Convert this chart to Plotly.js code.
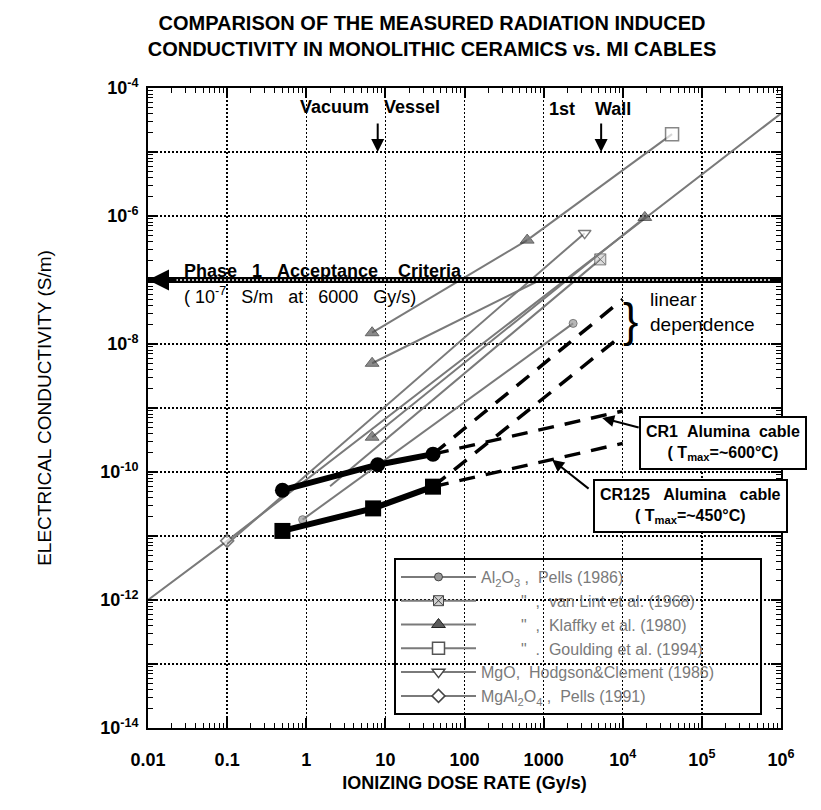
<!DOCTYPE html>
<html>
<head>
<meta charset="utf-8">
<script src="https://cdn.plot.ly/plotly-3.0.1.min.js"></script>
<style>html,body{margin:0;padding:0;background:#fff;}#chart{width:821px;height:810px;}</style>
</head>
<body>
<div id="chart"></div>
<script>
// ---------- DATA (dose rate in Gy/s, conductivity in S/m) ----------
// CR1 Alumina cable (filled circles)
const cr1Dose = [0.5, 8, 40];
const cr1Cond = [5.2e-11, 1.3e-10, 1.9e-10];
// CR125 Alumina cable (filled squares)
const cr125Dose = [0.5, 7, 40];
const cr125Cond = [1.2e-11, 2.7e-11, 5.9e-11];
// dashed extrapolations
const cr1LinDose = [40, 1e4];
const cr1LinCond = [1.9e-10, 5e-8];
const cr125LinDose = [40, 1e4];
const cr125LinCond = [5.9e-11, 1.4e-8];
const cr1FlatDose = [40, 1e4];
const cr1FlatCond = [1.9e-10, 9e-10];
const cr125FlatDose = [40, 1e4];
const cr125FlatCond = [5.9e-11, 2.8e-10];
// Al2O3, Pells (1986)
const pellsDose = [0.9, 2360];
const pellsCond = [1.8e-11, 2.1e-8];
// Al2O3, van Lint et al. (1968)
const vanLintDose = [2, 5200];
const vanLintCond = [6e-11, 2.1e-7];
// Al2O3, Klaffky et al. (1980) - three runs
const klaffky1Dose = [6.8, 620];
const klaffky1Cond = [1.5e-8, 4.2e-7];
const klaffky2Dose = [6.8, 900];
const klaffky2Cond = [5e-9, 1.0e-7];
const klaffky3Dose = [6.8, 1.9e4];
const klaffky3Cond = [3.5e-10, 9.5e-7];
// Al2O3, Goulding et al. (1994)
const gouldingDose = [620, 4.2e4];
const gouldingCond = [4.2e-7, 1.9e-5];
// MgO, Hodgson & Clement (1986)
const mgoDose = [0.1, 3300];
const mgoCond = [7.5e-12, 5.4e-7];
// MgAl2O4, Pells (1991)
const spinelDose = [0.01, 0.1, 1e6];
const spinelCond = [1e-12, 8.4e-12, 4e-5];
// Phase 1 acceptance criteria
const phaseDose = [0.01, 1e6];
const phaseCond = [1e-7, 1e-7];

// ticks
const xTickVals = [0.01, 0.1, 1, 10, 100, 1000, 1e4, 1e5, 1e6];
const xTickText = ['0.01', '0.1', '1', '10', '100', '1000', '10<sup>4</sup>', '10<sup>5</sup>', '10<sup>6</sup>'];
const yTickVals = [1e-14, 1e-13, 1e-12, 1e-11, 1e-10, 1e-9, 1e-8, 1e-7, 1e-6, 1e-5, 1e-4];
const yTickText = ['10<sup>-14</sup>', '', '10<sup>-12</sup>', '', '10<sup>-10</sup>', '', '10<sup>-8</sup>', '', '10<sup>-6</sup>', '', '10<sup>-4</sup>'];

const NB = '\u00a0';
const legendNames = [
  'Al<sub>2</sub>O<sub>3</sub> ,  Pells (1986)',
  NB.repeat(9) + '"  ,  van Lint et al. (1968)',
  NB.repeat(9) + '"  ,  Klaffky et al. (1980)',
  NB.repeat(9) + '"  .  Goulding et al. (1994)',
  'MgO,  Hodgson&amp;Clement (1986)' + NB.repeat(9),
  'MgAl<sub>2</sub>O<sub>4</sub> ,  Pells (1991)'
];

// ---------- helpers ----------
function minorTicks(lo, hi) {
  const out = [];
  for (let e = lo; e < hi; e++) for (let m = 2; m <= 9; m++) out.push(m * Math.pow(10, e));
  return out;
}
const FONT = 'Arial, "Liberation Sans", sans-serif';
const GREY = '#7a7a7a';
const MK = {
  pells: {symbol: 'circle', size: 8, color: '#9a9a9a', line: {color: '#444', width: 1}},
  vanlint: {symbol: 'square-x', size: 10, color: '#cfcfcf', line: {color: '#444', width: 1}},
  klaffky: {symbol: 'triangle-up', size: 12, color: '#5a5a5a', line: {color: '#222', width: 1}},
  goulding: {symbol: 'square', size: 12, color: '#ffffff', line: {color: '#555', width: 1.5}},
  mgo: {symbol: 'triangle-down', size: 11, color: '#ffffff', line: {color: '#444', width: 1.5}},
  spinel: {symbol: 'diamond', size: 10, color: '#ffffff', line: {color: '#444', width: 1.5}}
};
function greyTrace(x, y, mk, sizes) {
  return {x: x, y: y, type: 'scatter', mode: 'lines+markers', showlegend: false,
    line: {color: GREY, width: 2},
    marker: Object.assign({}, mk, {size: sizes})};
}
function legendTrace(name, mk, g) {
  return {x: [null], y: [null], type: 'scatter', mode: 'lines+markers', name: name,
    legendgroup: g, showlegend: true, line: {color: GREY, width: 2}, marker: mk};
}
function dashTrace(x, y) {
  return {x: x, y: y, type: 'scatter', mode: 'lines', showlegend: false,
    line: {color: 'black', width: 3.5, dash: '16px,11px'}};
}

const traces = [
  greyTrace(spinelDose, spinelCond, MK.spinel, [0, 10, 0]),
  greyTrace(mgoDose, mgoCond, MK.mgo, [0, 11]),
  greyTrace(pellsDose, pellsCond, MK.pells, [8, 8]),
  greyTrace(vanLintDose, vanLintCond, MK.vanlint, [0, 11]),
  greyTrace(klaffky3Dose, klaffky3Cond, MK.klaffky, [12, 12]),
  greyTrace(klaffky2Dose, klaffky2Cond, MK.klaffky, [12, 0]),
  greyTrace(klaffky1Dose, klaffky1Cond, MK.klaffky, [12, 12]),
  greyTrace(gouldingDose, gouldingCond, MK.goulding, [0, 13]),
  dashTrace(cr1LinDose, cr1LinCond),
  dashTrace(cr125LinDose, cr125LinCond),
  dashTrace(cr1FlatDose, cr1FlatCond),
  dashTrace(cr125FlatDose, cr125FlatCond),
  {x: cr1Dose, y: cr1Cond, type: 'scatter', mode: 'lines+markers', showlegend: false,
    line: {color: 'black', width: 6}, marker: {symbol: 'circle', size: 15, color: 'black'}},
  {x: cr125Dose, y: cr125Cond, type: 'scatter', mode: 'lines+markers', showlegend: false,
    line: {color: 'black', width: 6}, marker: {symbol: 'square', size: 16, color: 'black'}},
  {x: phaseDose, y: phaseCond, type: 'scatter', mode: 'lines', showlegend: false,
    line: {color: 'black', width: 6}},
  {x: phaseDose, y: phaseCond, type: 'scatter', mode: 'lines', showlegend: false,
    line: {color: 'white', width: 1.5, dash: '2px,2px'}},
  legendTrace(legendNames[0], MK.pells, 'g1'),
  legendTrace(legendNames[1], MK.vanlint, 'g2'),
  legendTrace(legendNames[2], MK.klaffky, 'g3'),
  legendTrace(legendNames[3], MK.goulding, 'g4'),
  legendTrace(legendNames[4], MK.mgo, 'g5'),
  legendTrace(legendNames[5], MK.spinel, 'g6')
];

const axisCommon = {
  type: 'log', showline: true, linecolor: 'black', linewidth: 2, mirror: 'ticks',
  ticks: 'inside', ticklen: 10, tickwidth: 2, tickcolor: 'black',
  showgrid: true, gridcolor: 'black', gridwidth: 1.3, griddash: '2px,2px',
  zeroline: false, tickmode: 'array',
  tickfont: {family: FONT, size: 18, color: 'black', weight: 700}
};

const layout = {
  width: 821, height: 810,
  margin: {l: 148, r: 40, t: 88, b: 82},
  paper_bgcolor: 'white', plot_bgcolor: 'white',
  showlegend: true,
  title: {
    text: 'COMPARISON OF THE MEASURED RADIATION INDUCED<br>CONDUCTIVITY IN MONOLITHIC CERAMICS vs. MI CABLES',
    x: 432 / 821, xanchor: 'center', xref: 'container',
    y: 1 - 30 / 810, yanchor: 'top', yref: 'container',
    font: {family: FONT, size: 20, color: 'black', weight: 700}
  },
  xaxis: Object.assign({}, axisCommon, {
    range: [-2, 6], tickvals: xTickVals, ticktext: xTickText, ticklabelstandoff: 14,
    minor: {tickmode: 'array', tickvals: minorTicks(-2, 6), ticks: 'inside', ticklen: 5, tickwidth: 1, tickcolor: 'black', showgrid: false},
    title: {text: 'IONIZING DOSE RATE (Gy/s)', standoff: 8, font: {family: FONT, size: 18, color: 'black', weight: 700}}
  }),
  yaxis: Object.assign({}, axisCommon, {
    range: [-14, -4], tickvals: yTickVals, ticktext: yTickText, ticklabelstandoff: 4,
    minor: {tickmode: 'array', tickvals: minorTicks(-14, -4), ticks: 'inside', ticklen: 5, tickwidth: 1, tickcolor: 'black', showgrid: false},
    title: {text: 'ELECTRICAL CONDUCTIVITY (S/m)', standoff: 44, font: {family: FONT, size: 19, color: 'black'}}
  }),
  legend: {
    x: (394 - 148) / 633, xanchor: 'left', y: (728 - 558) / 640, yanchor: 'top',
    bgcolor: 'rgba(0,0,0,0)', bordercolor: 'black', borderwidth: 2,
    itemwidth: 75, tracegroupgap: 4, traceorder: 'normal',
    font: {family: FONT, size: 16, color: '#7a7a7a'}
  },
  annotations: [
    // arrowhead of acceptance line
    {x: -2, y: -7, xref: 'x', yref: 'y', text: '', showarrow: true, ax: 30, ay: 0,
      arrowhead: 2, arrowsize: 1.4, arrowwidth: 3, arrowcolor: 'black', standoff: 0},
    {x: (182 - 148) / 633, y: (728 - 271) / 640, xref: 'paper', yref: 'paper', xanchor: 'left', yanchor: 'middle',
      text: 'Phase' + NB.repeat(3) + '1' + NB.repeat(3) + 'Acceptance' + NB.repeat(4) + 'Criteria', showarrow: false,
      font: {family: FONT, size: 18, color: 'black', weight: 700}},
    {x: (182 - 148) / 633, y: (728 - 295) / 640, xref: 'paper', yref: 'paper', xanchor: 'left', yanchor: 'middle',
      text: '( 10<sup>-7</sup>' + NB.repeat(3) + 'S/m' + NB.repeat(3) + 'at' + NB.repeat(3) + '6000' + NB.repeat(3) + 'Gy/s)', showarrow: false,
      font: {family: FONT, size: 18, color: 'black'}},
    // Vacuum Vessel
    {x: (370 - 148) / 633, y: (728 - 107) / 640, xref: 'paper', yref: 'paper', xanchor: 'center', yanchor: 'middle',
      text: 'Vacuum' + NB.repeat(3) + 'Vessel', showarrow: false, font: {family: FONT, size: 18, color: 'black', weight: 700}},
    {x: Math.log10(8), y: -5, xref: 'x', yref: 'y', text: '', showarrow: true, ax: 0, ay: -30,
      arrowhead: 2, arrowsize: 1.3, arrowwidth: 2, arrowcolor: 'black', standoff: 0},
    // 1st Wall
    {x: (590 - 148) / 633, y: (728 - 109) / 640, xref: 'paper', yref: 'paper', xanchor: 'center', yanchor: 'middle',
      text: '1st' + NB.repeat(4) + 'Wall', showarrow: false, font: {family: FONT, size: 18, color: 'black', weight: 700}},
    {x: 3.727, y: -5, xref: 'x', yref: 'y', text: '', showarrow: true, ax: 0, ay: -30,
      arrowhead: 2, arrowsize: 1.3, arrowwidth: 2, arrowcolor: 'black', standoff: 0},
    // linear dependence
    {x: (630 - 148) / 633, y: (728 - 320) / 640, xref: 'paper', yref: 'paper', xanchor: 'center', yanchor: 'middle',
      text: '}', showarrow: false, font: {family: FONT, size: 46, color: 'black'}},
    {x: (648 - 148) / 633, y: (728 - 312) / 640, xref: 'paper', yref: 'paper', xanchor: 'left', yanchor: 'middle',
      text: 'linear<br>dependence', align: 'left', showarrow: false, font: {family: FONT, size: 19, color: 'black'}},
    // CR1 box and arrow
    {x: (723 - 148) / 633, y: (728 - 443) / 640, xref: 'paper', yref: 'paper', xanchor: 'center', yanchor: 'middle',
      text: 'CR1' + NB.repeat(2) + 'Alumina' + NB.repeat(2) + 'cable<br>( T<sub>max</sub>=~600°C)', showarrow: false,
      bordercolor: 'black', borderwidth: 2, borderpad: 5, bgcolor: 'white',
      font: {family: FONT, size: 16, color: 'black', weight: 700}},
    {x: 3.74, y: -9.156, xref: 'x', yref: 'y', text: '', showarrow: true, ax: 38, ay: 10,
      arrowhead: 2, arrowsize: 1.2, arrowwidth: 2, arrowcolor: 'black', standoff: 0},
    // CR125 box and arrow
    {x: (690 - 148) / 633, y: (728 - 506) / 640, xref: 'paper', yref: 'paper', xanchor: 'center', yanchor: 'middle',
      text: 'CR125' + NB.repeat(3) + 'Alumina' + NB.repeat(3) + 'cable<br>( T<sub>max</sub>=~450°C)', showarrow: false,
      bordercolor: 'black', borderwidth: 2, borderpad: 5, bgcolor: 'white',
      font: {family: FONT, size: 16, color: 'black', weight: 700}},
    {x: 3.107, y: -9.81, xref: 'x', yref: 'y', text: '', showarrow: true, ax: 38, ay: 30,
      arrowhead: 2, arrowsize: 1.2, arrowwidth: 2, arrowcolor: 'black', standoff: 0}
  ]
};

Plotly.newPlot('chart', traces, layout, {staticPlot: true, displayModeBar: false});
</script>
</body>
</html>
